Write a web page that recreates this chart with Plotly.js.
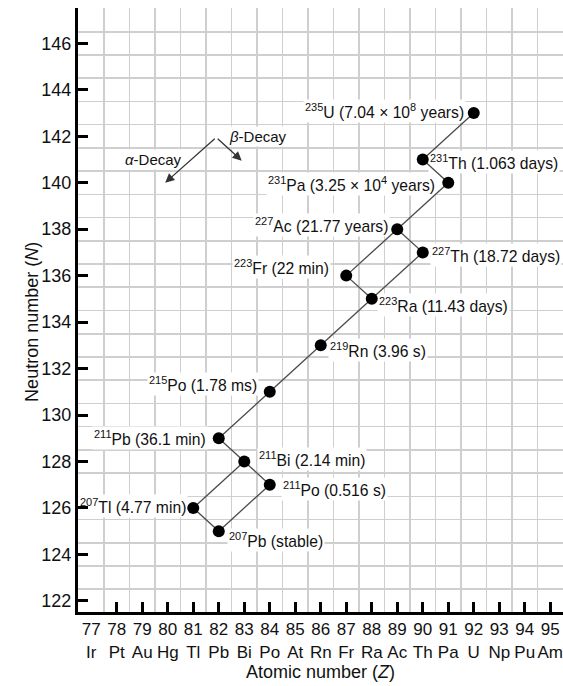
<!DOCTYPE html>
<html><head><meta charset="utf-8">
<script src="https://cdn.plot.ly/plotly-3.0.1.min.js"></script>
<style>html,body{margin:0;padding:0;background:#fff}#chart{width:563px;height:686px}</style>
</head><body><div id="chart"></div>
<script>
// ---- data ----
const massNumbers = [235, 231, 231, 227, 227, 223, 223, 219, 215, 211, 211, 211, 207, 207];
const symbols     = ['U', 'Th', 'Pa', 'Ac', 'Th', 'Fr', 'Ra', 'Rn', 'Po', 'Pb', 'Bi', 'Po', 'Tl', 'Pb'];
const atomicZ     = [92, 90, 91, 89, 90, 87, 88, 86, 84, 82, 83, 84, 81, 82];
const neutronN    = [143, 141, 140, 138, 137, 136, 135, 133, 131, 129, 128, 127, 126, 125];
const halfLives   = ['7.04 × 10<sup>8</sup> years', '1.063 days', '3.25 × 10<sup>4</sup> years',
                     '21.77 years', '18.72 days', '22 min', '11.43 days', '3.96 s', '1.78 ms',
                     '36.1 min', '2.14 min', '0.516 s', '4.77 min', 'stable'];
// decay links (from index -> to index)
const decayFrom = [0, 1, 2, 3, 3, 4, 5, 6, 7, 8, 9, 10, 10, 11, 12];
const decayTo   = [1, 2, 3, 4, 5, 6, 6, 7, 8, 9, 10, 11, 12, 13, 13];

const zTicks   = [77, 78, 79, 80, 81, 82, 83, 84, 85, 86, 87, 88, 89, 90, 91, 92, 93, 94, 95];
const elements = ['Ir', 'Pt', 'Au', 'Hg', 'Tl', 'Pb', 'Bi', 'Po', 'At', 'Rn', 'Fr', 'Ra', 'Ac', 'Th', 'Pa', 'U', 'Np', 'Pu', 'Am'];
const nTicks   = [122, 124, 126, 128, 130, 132, 134, 136, 138, 140, 142, 144, 146];

// ---- label placement (style) ----
const labelSide  = ['r', 'l', 'r', 'r', 'l', 'r', 'l', 'l', 'r', 'r', 'l', 'l', 'r', 'l'];
const labelDx    = [-9, 6, -12, -8, 8, -16, 6, 8, -12, -12, 14, 12, -6, 9];
const labelDy    = [2, -3, -1, 4, -3, 9, -6, -5, 8, 0, 2, -4, 2, -9];

const FONT = 'Liberation Sans, Arial, Helvetica, sans-serif';

// lines
const lx = [], ly = [];
for (let i = 0; i < decayFrom.length; i++) {
  lx.push(atomicZ[decayFrom[i]], atomicZ[decayTo[i]], null);
  ly.push(neutronN[decayFrom[i]], neutronN[decayTo[i]], null);
}

const traces = [
  {x: lx, y: ly, mode: 'lines', type: 'scatter', line: {color: '#4a4a4a', width: 1.3}, hoverinfo: 'skip'},
  {x: atomicZ, y: neutronN, mode: 'markers', type: 'scatter', marker: {color: '#000', size: 12}, hoverinfo: 'skip'},
  {x: [zTicks[0]], y: [nTicks[0]], xaxis: 'x2', mode: 'markers', marker: {opacity: 0}, hoverinfo: 'skip'}
];

const annotations = atomicZ.map((z, i) => ({
  name: 'label', x: z, y: neutronN[i], xref: 'x', yref: 'y',
  text: '<sup>' + massNumbers[i] + '</sup>' + symbols[i] + ' (' + halfLives[i] + ')',
  showarrow: false, xanchor: labelSide[i] === 'l' ? 'left' : 'right', yanchor: 'middle',
  xshift: labelDx[i], yshift: labelDy[i], borderpad: 0,
  font: {family: FONT, size: 15.7, color: '#111'}
}));

// decay direction legend
const legendVertex = [81.9, 141.95];
const alphaTip = [79.9, 140.0];
const betaTip = [82.9, 140.95];
[alphaTip, betaTip].forEach(t => annotations.push({
  x: t[0], y: t[1], ax: legendVertex[0], ay: legendVertex[1], xref: 'x', yref: 'y', axref: 'x', ayref: 'y',
  text: '', showarrow: true, arrowhead: 2, arrowsize: 1.4, arrowwidth: 1.3, arrowcolor: '#333', standoff: 0, startstandoff: 0
}));
annotations.push({name: 'label', x: 79.44, y: 140.98, xref: 'x', yref: 'y', text: '<i>α</i>-Decay', showarrow: false,
  font: {family: FONT, size: 15, color: '#111'}, borderpad: 0});
annotations.push({name: 'label', x: 83.54, y: 141.98, xref: 'x', yref: 'y', text: '<i>β</i>-Decay', showarrow: false,
  font: {family: FONT, size: 15, color: '#111'}, borderpad: 0});
annotations.push({x: -0.12, y: 0.48, xref: 'paper', yref: 'paper', text: 'Neutron number (<i>N</i>)', textangle: -90,
  showarrow: false, font: {family: FONT, size: 18, color: '#111'}});

const xr = [76.48, 95.5], yr = [121.52, 147.52];
const minorGrid = {tick0: 0.5, dtick: 1, showgrid: true, gridcolor: '#cfcfcf', gridwidth: 1.6, ticks: ''};

const layout = {
  width: 563, height: 686,
  margin: {l: 78, r: 0, t: 8, b: 74},
  paper_bgcolor: '#fff', plot_bgcolor: '#fff',
  showlegend: false,
  font: {family: FONT, color: '#111'},
  xaxis: {
    range: xr, tickmode: 'array', tickvals: zTicks,
    ticktext: zTicks.map((z, i) => z + '<br>' + elements[i]),
    ticks: '', showgrid: false, zeroline: false,
    showline: true, linecolor: '#000', linewidth: 3,
    minor: minorGrid, ticklabeloverflow: 'allow', tickangle: 0,
    tickfont: {family: FONT, size: 17, color: '#111'},
    title: {text: 'Atomic number (<i>Z</i>)', font: {family: FONT, size: 18, color: '#111'}, standoff: 5}
  },
  xaxis2: {
    overlaying: 'x', range: xr, tickmode: 'array', tickvals: zTicks.slice(1),
    ticks: 'inside', ticklen: 10, tickwidth: 3, tickcolor: '#000',
    showticklabels: false, showgrid: false, zeroline: false, showline: false
  },
  yaxis: {
    range: yr, tickmode: 'array', tickvals: nTicks,
    ticks: 'inside', ticklen: 10, tickwidth: 3, tickcolor: '#000',
    showgrid: false, zeroline: false,
    showline: true, linecolor: '#000', linewidth: 3,
    minor: minorGrid,
    tickfont: {family: FONT, size: 18, color: '#111'}
  },
  annotations: annotations
};

Plotly.newPlot('chart', traces, layout, {staticPlot: true}).then(gd => {
  const fl = gd._fullLayout, xa = fl.xaxis, ya = fl.yaxis;
  const gr = gd.getBoundingClientRect();
  const shapes = [];
  gd.querySelectorAll('.annotation').forEach(g => {
    const idx = +g.getAttribute('data-index');
    const ann = fl.annotations[idx];
    if (!ann || ann.name !== 'label') return;
    const t = g.querySelector('.annotation-text-g') || g;
    const r = t.getBoundingClientRect();
    const pad = 1;
    shapes.push({
      type: 'rect', xref: 'x', yref: 'y', layer: 'between',
      x0: xa.p2d(r.left - gr.left - xa._offset - pad), x1: xa.p2d(r.right - gr.left - xa._offset + pad),
      y0: ya.p2d(r.top - gr.top - ya._offset - pad), y1: ya.p2d(r.bottom - gr.top - ya._offset + pad),
      fillcolor: '#fff', line: {width: 0}
    });
  });
  return Plotly.relayout(gd, {shapes: shapes});
});
</script>
</body></html>
